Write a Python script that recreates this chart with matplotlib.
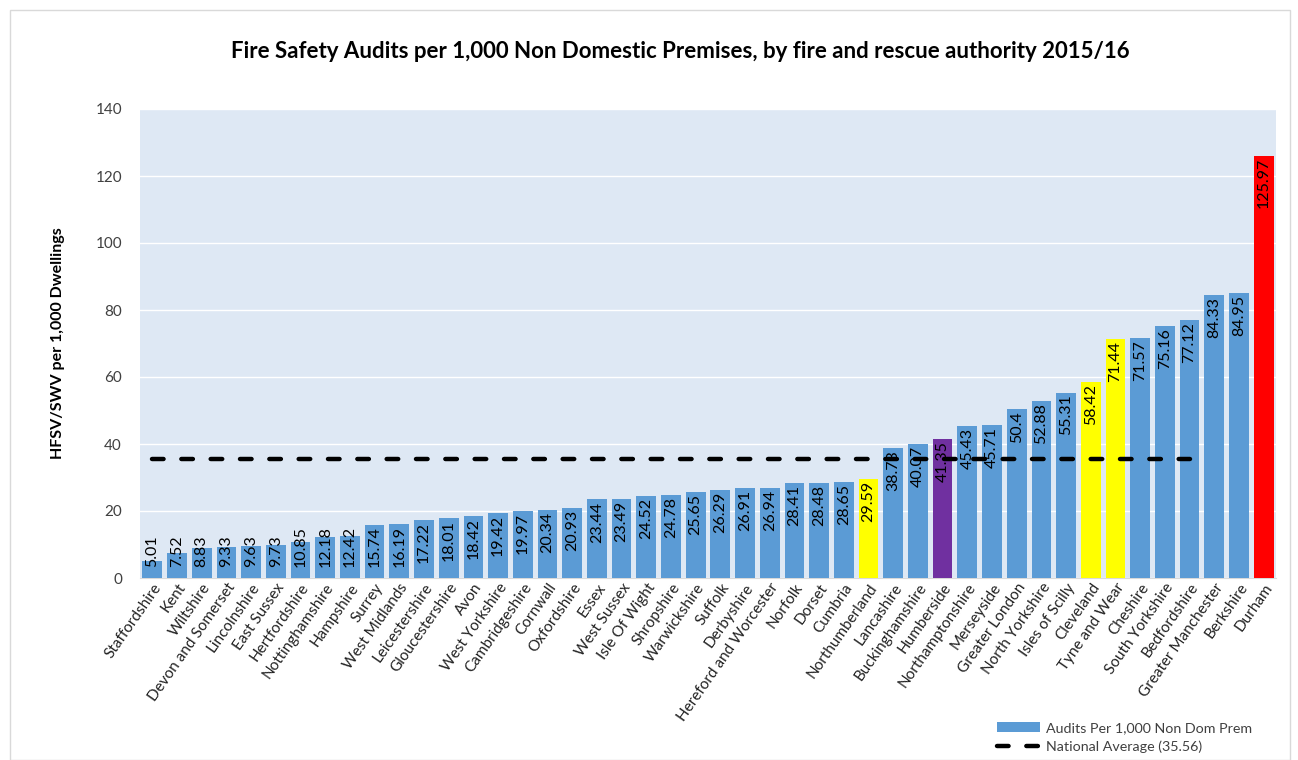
import matplotlib
matplotlib.use("Agg")
import matplotlib.pyplot as plt
from matplotlib.patches import Rectangle, Patch
from matplotlib.lines import Line2D

plt.rcParams['font.family'] = ['Lato', 'DejaVu Sans']

categories = ["Staffordshire", "Kent", "Wiltshire", "Devon and Somerset", "Lincolnshire",
              "East Sussex", "Hertfordshire", "Nottinghamshire", "Hampshire", "Surrey",
              "West Midlands", "Leicestershire", "Gloucestershire", "Avon", "West Yorkshire",
              "Cambridgeshire", "Cornwall", "Oxfordshire", "Essex", "West Sussex",
              "Isle Of Wight", "Shropshire", "Warwickshire", "Suffolk", "Derbyshire",
              "Hereford and Worcester", "Norfolk", "Dorset", "Cumbria", "Northumberland",
              "Lancashire", "Buckinghamshire", "Humberside", "Northamptonshire", "Merseyside",
              "Greater London", "North Yorkshire", "Isles of Scilly", "Cleveland", "Tyne and Wear",
              "Cheshire", "South Yorkshire", "Bedfordshire", "Greater Manchester", "Berkshire",
              "Durham"]
values = [5.01, 7.52, 8.83, 9.33, 9.63, 9.73, 10.85, 12.18, 12.42, 15.74,
          16.19, 17.22, 18.01, 18.42, 19.42, 19.97, 20.34, 20.93, 23.44, 23.49,
          24.52, 24.78, 25.65, 26.29, 26.91, 26.94, 28.41, 28.48, 28.65, 29.59,
          38.73, 40.07, 41.35, 45.43, 45.71, 50.4, 52.88, 55.31, 58.42, 71.44,
          71.57, 75.16, 77.12, 84.33, 84.95, 125.97]
value_labels = ["5.01", "7.52", "8.83", "9.33", "9.63", "9.73", "10.85", "12.18", "12.42", "15.74",
                "16.19", "17.22", "18.01", "18.42", "19.42", "19.97", "20.34", "20.93", "23.44", "23.49",
                "24.52", "24.78", "25.65", "26.29", "26.91", "26.94", "28.41", "28.48", "28.65", "29.59",
                "38.73", "40.07", "41.35", "45.43", "45.71", "50.4", "52.88", "55.31", "58.42", "71.44",
                "71.57", "75.16", "77.12", "84.33", "84.95", "125.97"]
highlight = {"Northumberland": "#FFFF00", "Cleveland": "#FFFF00", "Tyne and Wear": "#FFFF00",
             "Humberside": "#7030A0", "Durham": "#FF0000"}
national_average = 35.56
avg_count = 43  # line spans first 43 categories
yticks = [0, 20, 40, 60, 80, 100, 120, 140]

BLUE = "#5B9BD5"
colors = [highlight.get(c, BLUE) for c in categories]
DASH = (2.6, 4.0)

fig = plt.figure(figsize=(12.98, 7.6), dpi=100)
fig.patches.append(Rectangle((10/1298, 0), 1280/1298, 1 - 10/760, transform=fig.transFigure,
                             fill=False, edgecolor="#D9D9D9", linewidth=1.0))
ax = fig.add_axes([140/1298, 1 - 578/760, 1136/1298, 469/760])
ax.set_facecolor("#DEE8F4")

x = list(range(len(categories)))
ax.bar(x, values, width=0.8, color=colors, zorder=3)
ax.plot(x[:avg_count], [national_average] * avg_count, color="black", linewidth=3.2,
        dashes=DASH, dash_capstyle="round", zorder=6)

ax.set_xlim(-0.5, len(categories) - 0.5)
ax.set_ylim(0, 140)
ax.set_yticks(yticks)
ax.yaxis.grid(True, color="white", linewidth=1.0, zorder=0)
ax.set_axisbelow(True)
for s in ["top", "right", "left"]:
    ax.spines[s].set_visible(False)
ax.spines["bottom"].set_color("#D9D9D9")
ax.tick_params(axis="y", length=0, labelsize=11, labelcolor="#404040", pad=13)
ax.tick_params(axis="x", length=0, pad=2)
ax.set_xticks(x)
ax.set_xticklabels(categories, rotation=55, ha="right", rotation_mode="anchor",
                   fontsize=11, color="#222222")

fig.canvas.draw()
renderer = fig.canvas.get_renderer()
inv = ax.transData.inverted()
for xi, v, lab in zip(x, values, value_labels):
    t = ax.text(xi, 3.3, lab, rotation=90, ha="center", va="bottom", fontsize=11.5,
                color="black", zorder=5)
    bb = t.get_window_extent(renderer)
    h = inv.transform((0, bb.y1))[1] - inv.transform((0, bb.y0))[1]
    top = v - 0.6
    if top - h > 3.3:
        t.set_y(top)
        t.set_va("top")

ax.set_ylabel("HFSV/SWV per 1,000 Dwellings", fontsize=11.5, fontweight="bold", labelpad=22)
fig.text(680/1298, 1 - 52/760, "Fire Safety Audits per 1,000 Non Domestic Premises, by fire and rescue authority 2015/16",
         ha="center", va="center", fontsize=16, fontweight="bold")

handles = [Patch(facecolor=BLUE, edgecolor="none"),
           Line2D([0], [0], color="black", linewidth=3.2, dashes=DASH, dash_capstyle="round")]
leg = fig.legend(handles, ["Audits Per 1,000 Non Dom Prem", "National Average (35.56)"],
                 loc="upper left", bbox_to_anchor=(990/1298, 1 - 715/760), frameon=False,
                 fontsize=10.3, handlelength=3.0, handleheight=0.7, labelspacing=0.45,
                 handletextpad=0.4, borderpad=0)
for t in leg.get_texts():
    t.set_color("#404040")

fig.savefig("out.png", dpi=100)
